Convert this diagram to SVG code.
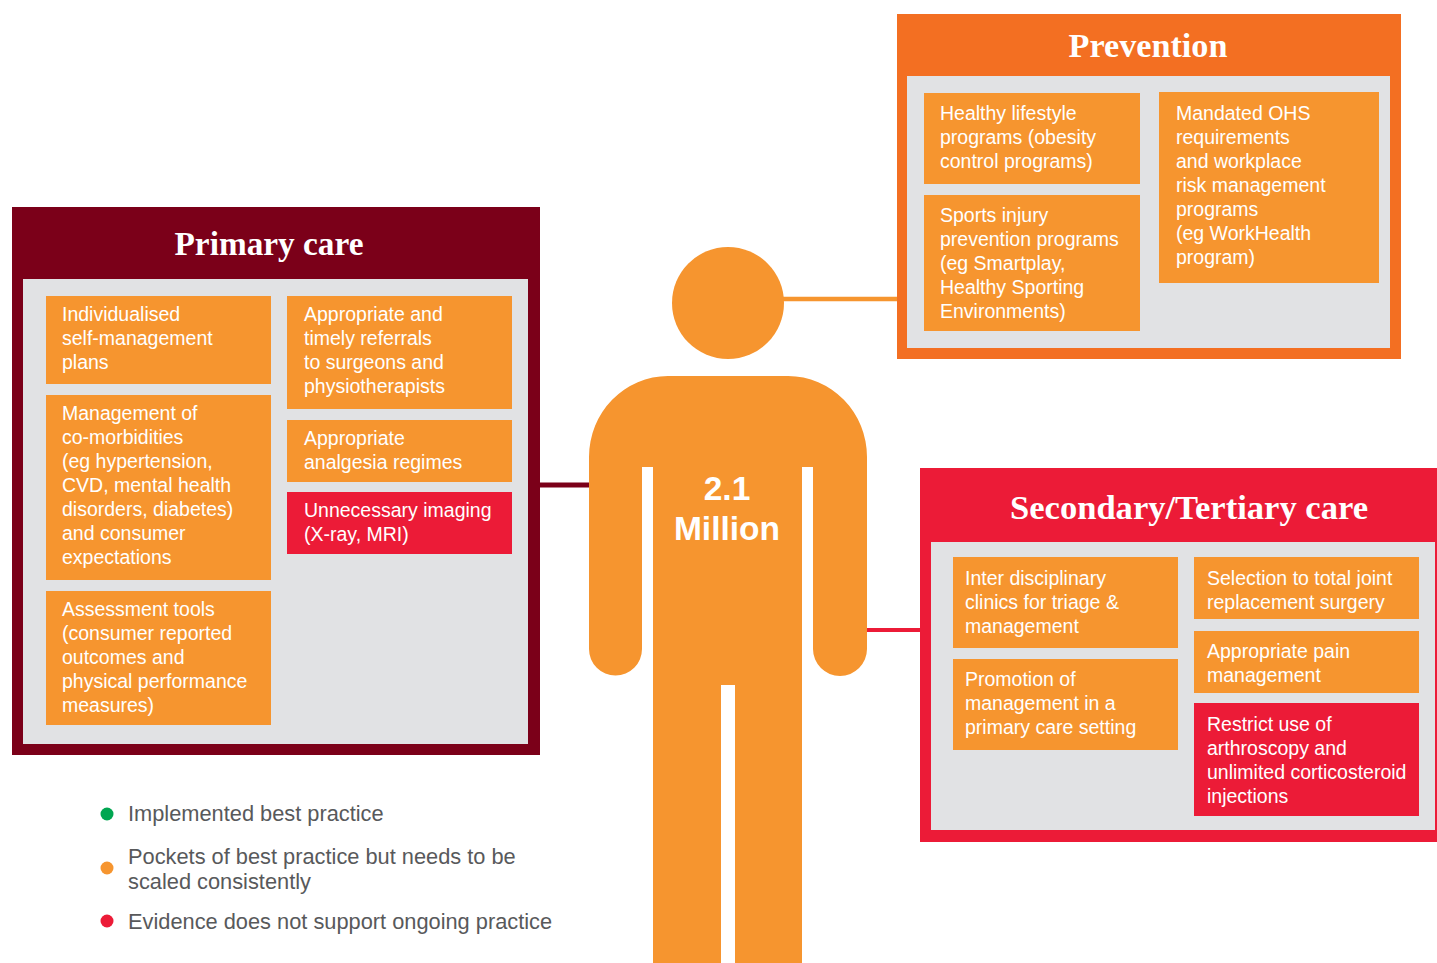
<svg xmlns="http://www.w3.org/2000/svg" width="1437" height="963" viewBox="0 0 1437 963">
<style>
.title{font-family:"Liberation Serif","Times New Roman",serif;font-weight:bold;font-size:34px;fill:#fff;text-anchor:middle}
.card{fill:#f6952f}
.bad{fill:#ec1b37}
.inner{fill:#e1e2e4}
.t{font-family:"Liberation Sans",Arial,sans-serif;font-size:19.5px;fill:#fff}
.leg{font-family:"Liberation Sans",Arial,sans-serif;font-size:21.8px;fill:#58595b}
.big{font-family:"Liberation Sans",Arial,sans-serif;font-size:33.5px;font-weight:bold;fill:#fff;text-anchor:middle}
</style>
<rect width="1437" height="963" fill="#fff"/>
<g id="connectors">
<line x1="540" y1="485" x2="592" y2="485" stroke="#7b0019" stroke-width="5"/>
<line x1="780" y1="299" x2="899" y2="299" stroke="#f6952f" stroke-width="4.5"/>
<line x1="864" y1="630" x2="922" y2="630" stroke="#ec1b37" stroke-width="4"/>
</g>
<g id="person">
<circle cx="728" cy="303" r="56" fill="#f6952f"/>
<path d="M589,457 A79 81 0 0 1 668,376 L788,376 A79 81 0 0 1 867,457 L867,649 A27 27 0 0 1 813,649 L813,467 L802,467 L802,963 L735,963 L735,685 L721,685 L721,963 L653,963 L653,467 L642,467 L642,649 A26.5 26.5 0 0 1 589,649 Z" fill="#f6952f"/>
<text class="big" x="727" y="500">2.1</text>
<text class="big" x="727" y="540">Million</text>
</g>
<g id="primary-care">
<rect x="12" y="207" width="528" height="548" fill="#7b0019"/>
<rect class="inner" x="23" y="279" width="505" height="465"/>
<text class="title" x="269" y="255" textLength="189" lengthAdjust="spacingAndGlyphs">Primary care</text>
<rect class="card" x="46" y="296" width="225" height="88"/>
<text class="t" x="62" y="321">Individualised<tspan x="62" dy="24">self-management</tspan><tspan x="62" dy="24">plans</tspan></text>
<rect class="card" x="46" y="395" width="225" height="185"/>
<text class="t" x="62" y="420">Management of<tspan x="62" dy="24">co-morbidities</tspan><tspan x="62" dy="24">(eg hypertension,</tspan><tspan x="62" dy="24">CVD, mental health</tspan><tspan x="62" dy="24">disorders, diabetes)</tspan><tspan x="62" dy="24">and consumer</tspan><tspan x="62" dy="24">expectations</tspan></text>
<rect class="card" x="46" y="591" width="225" height="134"/>
<text class="t" x="62" y="616">Assessment tools<tspan x="62" dy="24">(consumer reported</tspan><tspan x="62" dy="24">outcomes and</tspan><tspan x="62" dy="24">physical performance</tspan><tspan x="62" dy="24">measures)</tspan></text>
<rect class="card" x="287" y="296" width="225" height="113"/>
<text class="t" x="304" y="321">Appropriate and<tspan x="304" dy="24">timely referrals</tspan><tspan x="304" dy="24">to surgeons and</tspan><tspan x="304" dy="24">physiotherapists</tspan></text>
<rect class="card" x="287" y="420" width="225" height="62"/>
<text class="t" x="304" y="445">Appropriate<tspan x="304" dy="24">analgesia regimes</tspan></text>
<rect class="bad" x="287" y="492" width="225" height="62"/>
<text class="t" x="304" y="517">Unnecessary imaging<tspan x="304" dy="24">(X-ray, MRI)</tspan></text>
</g>
<g id="prevention">
<rect x="897" y="14" width="504" height="345" fill="#f36f22"/>
<rect class="inner" x="907" y="76" width="483" height="272"/>
<text class="title" x="1148" y="57" textLength="159" lengthAdjust="spacingAndGlyphs">Prevention</text>
<rect class="card" x="924" y="93" width="216" height="91"/>
<text class="t" x="940" y="120">Healthy lifestyle<tspan x="940" dy="24">programs (obesity</tspan><tspan x="940" dy="24">control programs)</tspan></text>
<rect class="card" x="924" y="195" width="216" height="136"/>
<text class="t" x="940" y="222">Sports injury<tspan x="940" dy="24">prevention programs</tspan><tspan x="940" dy="24">(eg Smartplay,</tspan><tspan x="940" dy="24">Healthy Sporting</tspan><tspan x="940" dy="24">Environments)</tspan></text>
<rect class="card" x="1159" y="92" width="220" height="191"/>
<text class="t" x="1176" y="120">Mandated OHS<tspan x="1176" dy="24">requirements</tspan><tspan x="1176" dy="24">and workplace</tspan><tspan x="1176" dy="24">risk management</tspan><tspan x="1176" dy="24">programs</tspan><tspan x="1176" dy="24">(eg WorkHealth</tspan><tspan x="1176" dy="24">program)</tspan></text>
</g>
<g id="secondary-tertiary-care">
<rect x="920" y="468" width="530" height="374" fill="#ec1b37"/>
<rect class="inner" x="931" y="542" width="504" height="288"/>
<text class="title" x="1189" y="519" textLength="358" lengthAdjust="spacingAndGlyphs">Secondary/Tertiary care</text>
<rect class="card" x="953" y="557" width="225" height="91"/>
<text class="t" x="965" y="585">Inter disciplinary<tspan x="965" dy="24">clinics for triage &amp;</tspan><tspan x="965" dy="24">management</tspan></text>
<rect class="card" x="953" y="659" width="225" height="91"/>
<text class="t" x="965" y="686">Promotion of<tspan x="965" dy="24">management in a</tspan><tspan x="965" dy="24">primary care setting</tspan></text>
<rect class="card" x="1194" y="557" width="225" height="62"/>
<text class="t" x="1207" y="585">Selection to total joint<tspan x="1207" dy="24">replacement surgery</tspan></text>
<rect class="card" x="1194" y="631" width="225" height="62"/>
<text class="t" x="1207" y="658">Appropriate pain<tspan x="1207" dy="24">management</tspan></text>
<rect class="bad" x="1194" y="703" width="225" height="113"/>
<text class="t" x="1207" y="731">Restrict use of<tspan x="1207" dy="24">arthroscopy and</tspan><tspan x="1207" dy="24">unlimited corticosteroid</tspan><tspan x="1207" dy="24">injections</tspan></text>
</g>
<g id="legend">
<circle cx="107" cy="814" r="6.5" fill="#00a651"/>
<text class="leg" x="128" y="821">Implemented best practice</text>
<circle cx="107" cy="868" r="6.5" fill="#f6952f"/>
<text class="leg" x="128" y="864">Pockets of best practice but needs to be<tspan x="128" dy="25">scaled consistently</tspan></text>
<circle cx="107" cy="921" r="6.5" fill="#ec1b37"/>
<text class="leg" x="128" y="929">Evidence does not support ongoing practice</text>
</g>
</svg>
